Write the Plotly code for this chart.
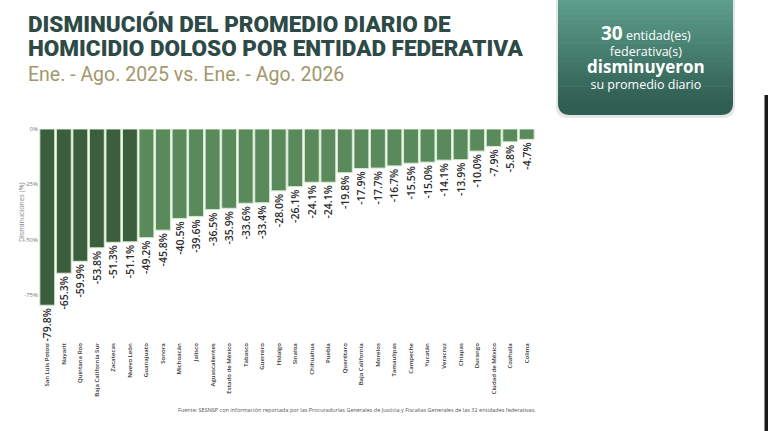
import plotly.graph_objects as go

estados = ["San Luis Potosí", "Nayarit", "Quintana Roo", "Baja California Sur", "Zacatecas",
           "Nuevo León", "Guanajuato", "Sonora", "Michoacán", "Jalisco", "Aguascalientes",
           "Estado de México", "Tabasco", "Guerrero", "Hidalgo", "Sinaloa", "Chihuahua",
           "Puebla", "Querétaro", "Baja California", "Morelos", "Tamaulipas", "Campeche",
           "Yucatán", "Veracruz", "Chiapas", "Durango", "Ciudad de México", "Coahuila", "Colima"]
valores = [-79.8, -65.3, -59.9, -53.8, -51.3, -51.1, -49.2, -45.8, -40.5, -39.6, -36.5,
           -35.9, -33.6, -33.4, -28.0, -26.1, -24.1, -24.1, -19.8, -17.9, -17.7, -16.7,
           -15.5, -15.0, -14.1, -13.9, -10.0, -7.9, -5.8, -4.7]
y_ticks = [0, -25, -50, -75]
y_tick_labels = ["0%", "-25%", "-50%", "-75%"]

colores = ["#3b5e3d" if i < 6 else "#5a8a5b" for i in range(len(valores))]
etiquetas = [f"{v:.1f}%" for v in valores]

W, H = 768, 431
L, R, T, B = 39, 233, 129, 90
PW, PH = W - L - R, H - T - B


def px(x):
    return (x - L) / PW


def py(y):
    return 1 + (T - y) / PH


fig = go.Figure()
fig.add_trace(go.Bar(
    x=estados, y=valores,
    marker=dict(color=colores, line=dict(color="#d6ead0", width=1)),
    text=etiquetas, textposition="outside", textangle=-90, constraintext="none",
    textfont=dict(family="Open Sans", size=10.5, color="#2b2b2b", weight=600),
    cliponaxis=False,
))

fig.update_layout(
    width=W, height=H,
    margin=dict(l=L, r=R, t=T, b=B),
    paper_bgcolor="white", plot_bgcolor="white",
    showlegend=False, bargap=0.1,
    xaxis=dict(tickangle=-90, tickfont=dict(family="Open Sans", size=6, color="#333", weight=600),
               showgrid=False, zeroline=False, showline=False, ticks="", automargin=False),
    yaxis=dict(range=[-96, 0], tickvals=y_ticks, ticktext=y_tick_labels,
               tickfont=dict(family="Open Sans", size=6, color="#777"),
               showgrid=False, zeroline=False, showline=False, ticks="",
               automargin=False),
)

# y-axis title
fig.add_annotation(xref="paper", yref="paper", x=px(21), y=py(212), xanchor="center", yanchor="middle",
                   text="Disminuciones (%)", textangle=-90, showarrow=False,
                   font=dict(family="Open Sans", size=7, color="#888"))

# Title
for txt, yy in [("DISMINUCIÓN DEL PROMEDIO DIARIO DE", 24), ("HOMICIDIO DOLOSO POR ENTIDAD FEDERATIVA", 48)]:
    fig.add_annotation(xref="paper", yref="paper", x=px(26), y=py(yy), xanchor="left", yanchor="middle",
                       text=txt, showarrow=False,
                       font=dict(family="Roboto", size=22.5, color="#2e4a46", weight=900))
fig.add_annotation(xref="paper", yref="paper", x=px(26), y=py(75), xanchor="left", yanchor="middle",
                   text="Ene. - Ago. 2025 vs. Ene. - Ago. 2026", showarrow=False,
                   font=dict(family="Roboto", size=19.5, color="#a3976b"))

# Box with gradient (stacked strips)
x0, x1, y0, y1 = 558, 733, 0, 115
r = 12
n = 24
top_c = (0x5d, 0x9e, 0x8c)
bot_c = (0x2c, 0x58, 0x4d)


def rounded_bottom(a, b, c, d, rr):
    return "M {A},{B} L {C},{B} L {C},{D} Q {C},{E} {F},{E} L {G},{E} Q {A},{E} {A},{D} Z".format(
        A=px(a), B=py(b), C=px(c), D=py(d - rr), E=py(d), F=px(c - rr), G=px(a + rr))


fig.add_shape(type="path", xref="paper", yref="paper", layer="below",
              path=rounded_bottom(x0 - 2, y0, x1 + 2, y1 + 3, r),
              fillcolor="rgba(0,0,0,0.10)", line=dict(width=0))
for i in range(n):
    t = i / (n - 1)
    c = tuple(int(top_c[k] + (bot_c[k] - top_c[k]) * t) for k in range(3))
    col = "rgb(%d,%d,%d)" % c
    ya = y0 + (y1 - y0) * i / n
    yb = y0 + (y1 - y0) * (i + 1) / n + 0.6
    if yb < y1 - r:
        fig.add_shape(type="rect", xref="paper", yref="paper", layer="below",
                      x0=px(x0), x1=px(x1), y0=py(ya), y1=py(yb),
                      fillcolor=col, line=dict(width=0))
    else:
        fig.add_shape(type="path", xref="paper", yref="paper", layer="below",
                      path=rounded_bottom(x0, ya, x1, y1, r), fillcolor=col, line=dict(width=0))
        break

fig.add_annotation(xref="paper", yref="paper", x=px(646), y=py(56), xanchor="center", yanchor="middle",
                   text="<b><span style='font-size:19px'>30</span></b> entidad(es)<br>federativa(s)<br>"
                        "<b><span style='font-size:17px'>disminuyeron</span></b><br>su promedio diario",
                   showarrow=False, align="center",
                   font=dict(family="Open Sans", size=12.5, color="white"))

# Footer
fig.add_annotation(xref="paper", yref="paper", x=px(357), y=py(410), xanchor="center", yanchor="middle",
                   text="Fuente: SESNSP con información reportada por las Procuradurías Generales de Justicia y Fiscalías Generales de las 32 entidades federativas.",
                   showarrow=False, font=dict(family="Open Sans", size=5.5, color="#555"))

# dark strip at right edge
fig.add_shape(type="rect", xref="paper", yref="paper", layer="above",
              x0=px(764.5), x1=px(768), y0=py(95), y1=py(431),
              fillcolor="#1a1a1a", line=dict(width=0))

fig.write_html("out.html", config={"displayModeBar": False},
               post_script="document.body.style.margin='0';document.body.style.overflow='hidden';")
